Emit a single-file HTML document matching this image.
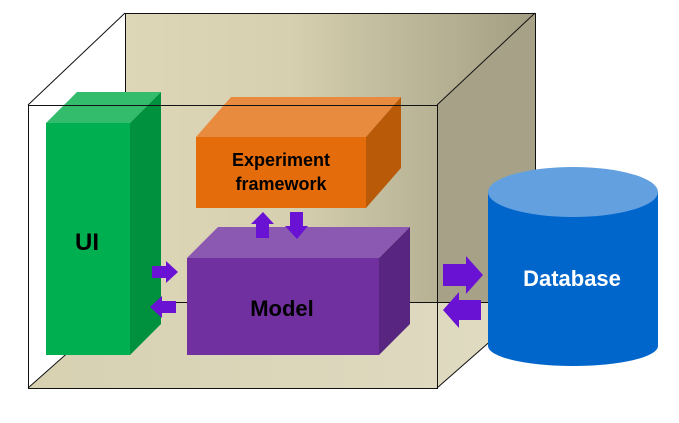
<!DOCTYPE html>
<html><head><style>
html,body{margin:0;padding:0;background:#fff;}
svg{display:block}
text{font-family:"Liberation Sans",sans-serif;font-weight:bold;text-anchor:middle}
</style></head><body>
<svg width="679" height="423" viewBox="0 0 679 423">
<defs>
<linearGradient id="bw" x1="0" x2="1" y1="0" y2="0">
<stop offset="0" stop-color="#ddd7b8"/><stop offset="0.4" stop-color="#d6d0b0"/><stop offset="1" stop-color="#a39d83"/>
</linearGradient>
<linearGradient id="fl" x1="0" x2="1" y1="0" y2="0">
<stop offset="0" stop-color="#d7d1b2"/><stop offset="1" stop-color="#e0dbc2"/>
</linearGradient>
</defs>
<!-- cube -->
<rect x="125" y="13" width="410" height="289" fill="url(#bw)"/>
<polygon points="437,105 535,13 535,302 437,388" fill="#a7a287"/>
<polygon points="28,388 125,302 535,302 437,388" fill="url(#fl)"/>
<g fill="none" stroke="#111" stroke-width="1">
<rect x="125.5" y="13.5" width="410" height="289"/>
<line x1="28" y1="105" x2="125" y2="13"/>
<line x1="437" y1="105" x2="535" y2="13"/>
<line x1="437" y1="388" x2="535" y2="302"/>
<line x1="28" y1="388" x2="125" y2="302"/>
</g>
<!-- UI -->
<polygon points="46,123 77,92 161,92 130,123" fill="#32bc6c"/>
<polygon points="130,123 161,92 161,324 130,355" fill="#00913e"/>
<rect x="46" y="123" width="84" height="232" fill="#00b050"/>
<text x="87" y="250" font-size="24">UI</text>
<!-- Experiment -->
<polygon points="196,137 231,97 401,97 366,137" fill="#e98b3e"/>
<polygon points="366,137 401,97 401,168 366,208" fill="#b85a08"/>
<rect x="196" y="137" width="170" height="71" fill="#e46c0a"/>
<text x="281" y="166" font-size="18">Experiment</text>
<text x="281" y="190" font-size="18">framework</text>
<!-- Model -->
<polygon points="187,258 218,227 410,227 379,258" fill="#8b59b2"/>
<polygon points="379,258 410,227 410,324 379,355" fill="#582680"/>
<rect x="187" y="258" width="192" height="97" fill="#7030a0"/>
<text x="282" y="316" font-size="22">Model</text>
<!-- front face outline -->
<g fill="none" stroke="#111" stroke-width="1">
<rect x="28.5" y="105.5" width="409" height="283"/>
<line x1="160" y1="302.5" x2="187" y2="302.5"/>
<line x1="410" y1="302.5" x2="437" y2="302.5"/>
</g>
<!-- Database -->
<rect x="488" y="192" width="170" height="154" fill="#0066cc"/>
<ellipse cx="573" cy="346" rx="85" ry="20" fill="#0066cc"/>
<ellipse cx="573" cy="192" rx="85" ry="25" fill="#63a0e0"/>
<text x="572" y="286" font-size="22" fill="#fff">Database</text>
<!-- arrows -->
<g fill="#6a12d4">
<polygon points="152,266 166,266 166,261 178,272 166,283 166,278 152,278"/>
<polygon points="176,301 162,301 162,296 150,307 162,318 162,313 176,313"/>
<polygon points="256,238 256,224 251,224 263,212 274,224 269,224 269,238"/>
<polygon points="290,212 290,226 285,226 297,239 308,226 303,226 303,212"/>
<polygon points="443,264 466,264 466,256 483,275 466,294 466,286 443,286"/>
<polygon points="481,300 459,300 459,292 443,310 459,328 459,320 481,320"/>
</g>
</svg>
</body></html>
